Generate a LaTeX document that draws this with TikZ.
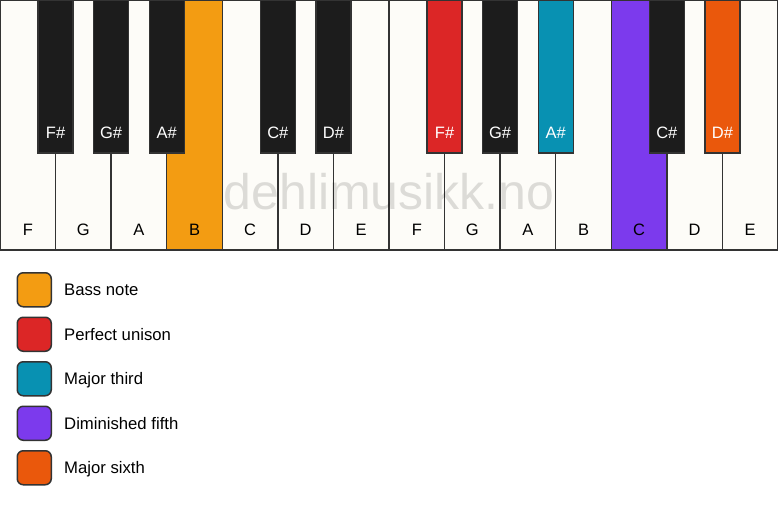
\documentclass[tikz,border=0pt]{standalone}
\usepackage{fontspec}
\setmainfont{Liberation Sans}
\definecolor{keywhite}{HTML}{FDFCF8}
\definecolor{keyblack}{HTML}{1C1C1C}
\definecolor{keyline}{HTML}{333333}
\definecolor{bassnote}{HTML}{F39C12}
\definecolor{unison}{HTML}{DC2626}
\definecolor{third}{HTML}{0891B2}
\definecolor{fifth}{HTML}{7C3AED}
\definecolor{sixth}{HTML}{EA580C}
\tikzset{
  whitekey/.style={fill=keywhite, draw=keyline, line width=1.5pt},
  blackkey/.style={fill=keyblack, draw=keyline, line width=1.2pt},
  keylabel/.style={font=\fontsize{16.5}{19}\selectfont, inner sep=0pt},
  legendbox/.style={draw=keyline, line width=1.5pt, rounded corners=6pt, minimum width=34pt, minimum height=34pt, inner sep=0pt, anchor=north west},
  legendtext/.style={font=\fontsize{16.7}{19}\selectfont, inner sep=0pt, anchor=base west}
}
\begin{document}
\begin{tikzpicture}[x=1pt, y=-1pt]
                \useasboundingbox[fill=white] (0,0) rectangle (778,506);
                % white keys
                \filldraw[whitekey] (0,0) rectangle (55.57,250);
                \filldraw[whitekey] (55.57,0) rectangle (111.14,250);
                \filldraw[whitekey] (111.14,0) rectangle (166.71,250);
                \filldraw[whitekey, fill=bassnote] (166.71,0) rectangle (222.29,250);
                \filldraw[whitekey] (222.29,0) rectangle (277.86,250);
                \filldraw[whitekey] (277.86,0) rectangle (333.43,250);
                \filldraw[whitekey] (333.43,0) rectangle (389,250);
                \filldraw[whitekey] (389,0) rectangle (444.57,250);
                \filldraw[whitekey] (444.57,0) rectangle (500.14,250);
                \filldraw[whitekey] (500.14,0) rectangle (555.71,250);
                \filldraw[whitekey] (555.71,0) rectangle (611.29,250);
                \filldraw[whitekey, fill=fifth] (611.29,0) rectangle (666.86,250);
                \filldraw[whitekey] (666.86,0) rectangle (722.43,250);
                \filldraw[whitekey] (722.43,0) rectangle (778,250);
                % black keys
                \filldraw[blackkey] (38.07,0) rectangle (73.07,153);
                \filldraw[blackkey] (93.64,0) rectangle (128.64,153);
                \filldraw[blackkey] (149.21,0) rectangle (184.21,153);
                \filldraw[blackkey] (260.36,0) rectangle (295.36,153);
                \filldraw[blackkey] (315.93,0) rectangle (350.93,153);
                \filldraw[blackkey, fill=unison] (427.07,0) rectangle (462.07,153);
                \filldraw[blackkey] (482.64,0) rectangle (517.64,153);
                \filldraw[blackkey, fill=third] (538.21,0) rectangle (573.21,153);
                \filldraw[blackkey] (649.36,0) rectangle (684.36,153);
                \filldraw[blackkey, fill=sixth] (704.93,0) rectangle (739.93,153);
                % key names
                \node[keylabel] (f1) at (27.79,230) {F};
                \node[keylabel] (g1) at (83.36,230) {G};
                \node[keylabel] (a1) at (138.93,230) {A};
                \node[keylabel] (b1) at (194.5,230) {B};
                \node[keylabel] (c1) at (250.07,230) {C};
                \node[keylabel] (d1) at (305.64,230) {D};
                \node[keylabel] (e1) at (361.21,230) {E};
                \node[keylabel] (f2) at (416.79,230) {F};
                \node[keylabel] (g2) at (472.36,230) {G};
                \node[keylabel] (a2) at (527.93,230) {A};
                \node[keylabel] (b2) at (583.5,230) {B};
                \node[keylabel] (c2) at (639.07,230) {C};
                \node[keylabel] (d2) at (694.64,230) {D};
                \node[keylabel] (e2) at (750.21,230) {E};
                \node[keylabel, white] (fs1) at (55.57,133) {F\#};
                \node[keylabel, white] (gs1) at (111.14,133) {G\#};
                \node[keylabel, white] (as1) at (166.71,133) {A\#};
                \node[keylabel, white] (cs1) at (277.86,133) {C\#};
                \node[keylabel, white] (ds1) at (333.43,133) {D\#};
                \node[keylabel, white] (fs2) at (444.57,133) {F\#};
                \node[keylabel, white] (gs2) at (500.14,133) {G\#};
                \node[keylabel, white] (as2) at (555.71,133) {A\#};
                \node[keylabel, white] (cs2) at (666.86,133) {C\#};
                \node[keylabel, white] (ds2) at (722.43,133) {D\#};
                % watermark
                \node[inner sep=0pt, anchor=base, black, opacity=0.13, font=\fontsize{50}{60}\selectfont] (mark) at (389,209) {dehlimusikk.no};
                % legend
                \node[legendbox, fill=bassnote] (bassbox) at (16.5,272) {};
                \node[legendbox, fill=unison] (unisonbox) at (16.5,316.5) {};
                \node[legendbox, fill=third] (thirdbox) at (16.5,361) {};
                \node[legendbox, fill=fifth] (fifthbox) at (16.5,405.5) {};
                \node[legendbox, fill=sixth] (sixthbox) at (16.5,450) {};
                \node[legendtext] (basstext) at (64,295.5) {Bass note};
                \node[legendtext] (unisontext) at (64,340) {Perfect unison};
                \node[legendtext] (thirdtext) at (64,384.5) {Major third};
                \node[legendtext] (fifthtext) at (64,429) {Diminished fifth};
                \node[legendtext] (sixthtext) at (64,473.5) {Major sixth};

            \end{tikzpicture}
\end{document}
